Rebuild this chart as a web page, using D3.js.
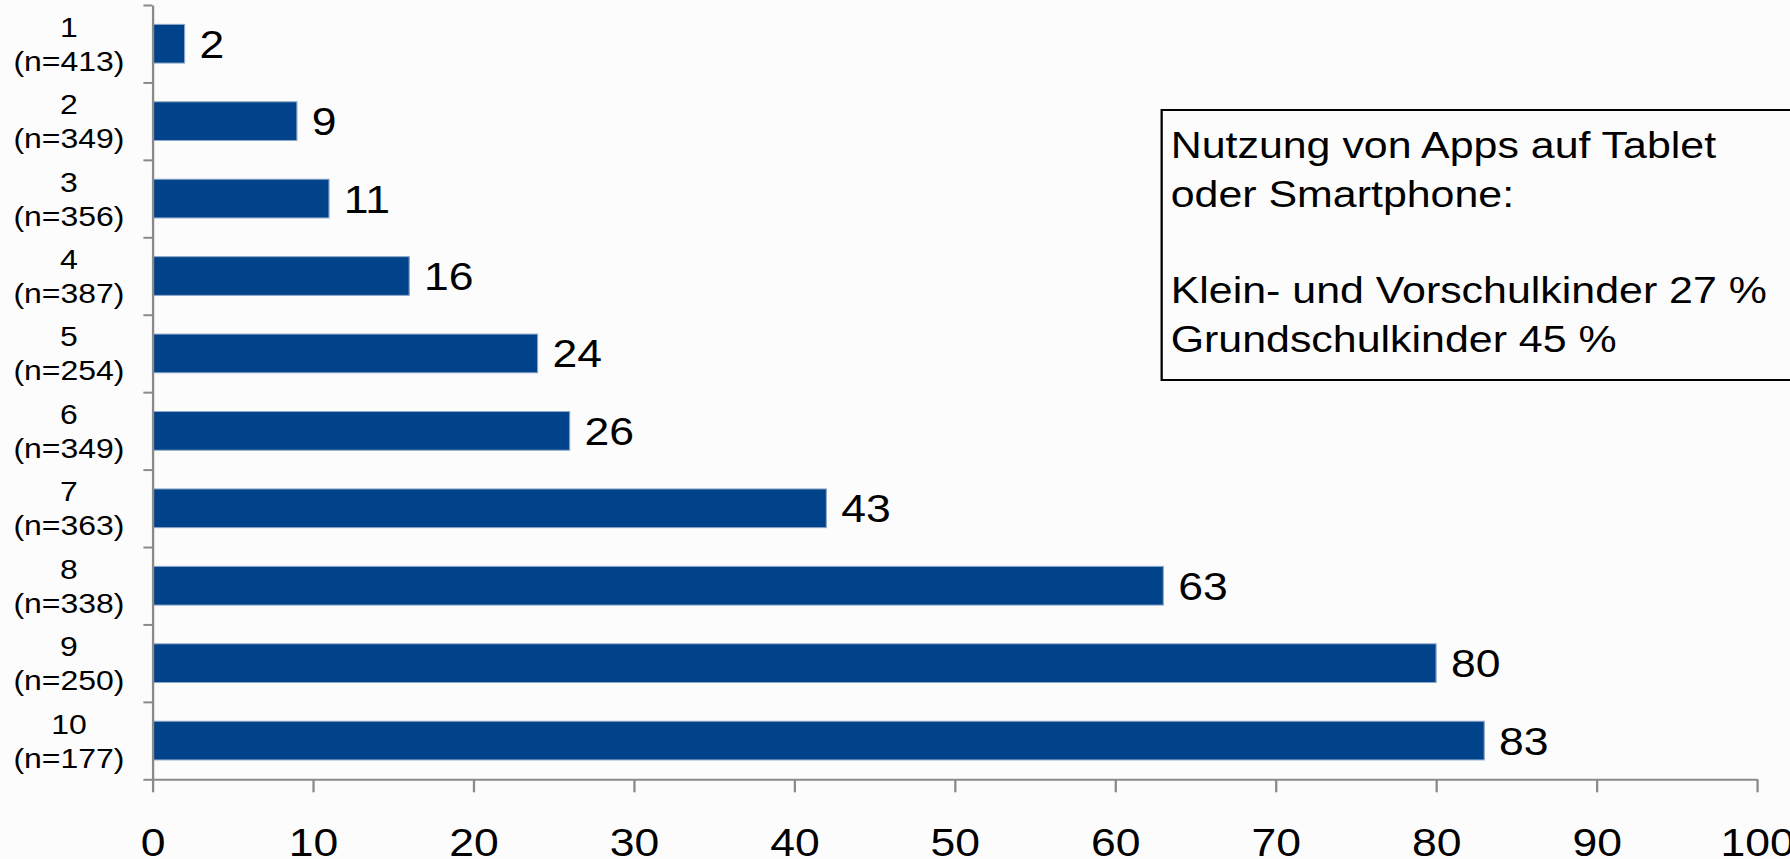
<!DOCTYPE html>
<html>
<head>
<meta charset="utf-8">
<script src="https://cdn.jsdelivr.net/npm/d3@7"></script>
<style>
  html, body { margin: 0; padding: 0; background: #fcfcfc; }
  svg { display: block; }
  text { font-family: "Liberation Sans", Arial, sans-serif; fill: #000; }
</style>
</head>
<body>
<svg id="chart"></svg>
<script>
// data
const ages = ["1", "2", "3", "4", "5", "6", "7", "8", "9", "10"];
const sampleSizes = [413, 349, 356, 387, 254, 349, 363, 338, 250, 177];
// bar lengths as drawn; the printed labels differ for age 7 (bar 42, label 43)
const shares = [2, 9, 11, 16, 24, 26, 42, 63, 80, 83];
const shareLabels = ["2", "9", "11", "16", "24", "26", "43", "63", "80", "83"];
const xTicks = [0, 10, 20, 30, 40, 50, 60, 70, 80, 90, 100];
const noteLines = ["Nutzung von Apps auf Tablet", "oder Smartphone:", "", "Klein- und Vorschulkinder 27 %", "Grundschulkinder 45 %"];

const rows = ages.map((a, i) => ({age: a, n: sampleSizes[i], v: shares[i], lab: shareLabels[i]}));

// original picture is horizontally stretched, so draw in a narrower box and stretch it
const W = 1568, H = 859;
const svg = d3.select("#chart")
    .attr("width", 1790).attr("height", H)
    .attr("viewBox", `0 0 ${W} ${H}`)
    .attr("preserveAspectRatio", "none");

const m = {left: 133.6, right: 1539.1, top: 5, bottom: 779.3};
const axisColor = "#8a8a8a";

const x = d3.scaleLinear().domain([0, 100]).range([m.left, m.right]);
const y = d3.scaleBand().domain(ages).range([m.top, m.bottom]).paddingInner(0.5).paddingOuter(0.25);
const yEdge = d3.scaleLinear().domain([0, ages.length]).range([m.top, m.bottom]);

// bars
svg.append("g")
    .selectAll("rect")
    .data(rows)
    .join("rect")
    .attr("x", x(0))
    .attr("y", d => y(d.age))
    .attr("width", d => x(d.v) - x(0))
    .attr("height", y.bandwidth())
    .attr("fill", "#00438a")
    .attr("stroke", "#8fa9c9")
    .attr("stroke-width", 1);

// value labels
svg.append("g")
    .selectAll("text")
    .data(rows)
    .join("text")
    .attr("x", d => x(d.v) + 13)
    .attr("y", d => y(d.age) + y.bandwidth() / 2 + 14)
    .style("font-size", "39px")
    .text(d => d.lab);

// y axis, ticks between the categories
const yAxis = svg.append("g")
    .attr("transform", `translate(${m.left},0)`)
    .call(d3.axisLeft(yEdge).tickValues(d3.range(0, ages.length + 1)).tickSize(8).tickSizeOuter(0).tickFormat(""));
yAxis.select(".domain").attr("stroke", axisColor).attr("stroke-width", 2);
yAxis.selectAll(".tick line").attr("stroke", axisColor).attr("stroke-width", 2);

// y labels
const yLab = svg.append("g")
    .selectAll("text")
    .data(rows)
    .join("text")
    .attr("text-anchor", "middle")
    .style("font-size", "28px");
yLab.append("tspan")
    .attr("x", 60.4)
    .attr("y", d => y(d.age) + y.bandwidth() / 2 - 7)
    .text(d => d.age);
yLab.append("tspan")
    .attr("x", 60.4)
    .attr("y", d => y(d.age) + y.bandwidth() / 2 + 27)
    .text(d => `(n=${d.n})`);

// x axis
const xAxis = svg.append("g")
    .attr("transform", `translate(0,${m.bottom})`)
    .call(d3.axisBottom(x).tickValues(xTicks).tickSize(13).tickSizeOuter(0));
xAxis.select(".domain").attr("stroke", axisColor).attr("stroke-width", 2);
xAxis.selectAll(".tick line").attr("stroke", axisColor).attr("stroke-width", 2);
xAxis.selectAll(".tick text")
    .attr("y", 76.5).attr("dy", 0)
    .attr("fill", "#000")
    .style("font-size", "39px")
    .style("font-family", "'Liberation Sans', Arial, sans-serif");

// note box
svg.append("rect")
    .attr("x", 1017.6).attr("y", 110)
    .attr("width", 560).attr("height", 270)
    .attr("fill", "#fcfcfc")
    .attr("stroke", "#000")
    .attr("stroke-width", 2);

svg.append("g")
    .selectAll("text")
    .data(noteLines)
    .join("text")
    .attr("x", 1025.5)
    .attr("y", (d, i) => 158.3 + i * 48.35)
    .style("font-size", "37.6px")
    .text(d => d);
</script>
</body>
</html>
